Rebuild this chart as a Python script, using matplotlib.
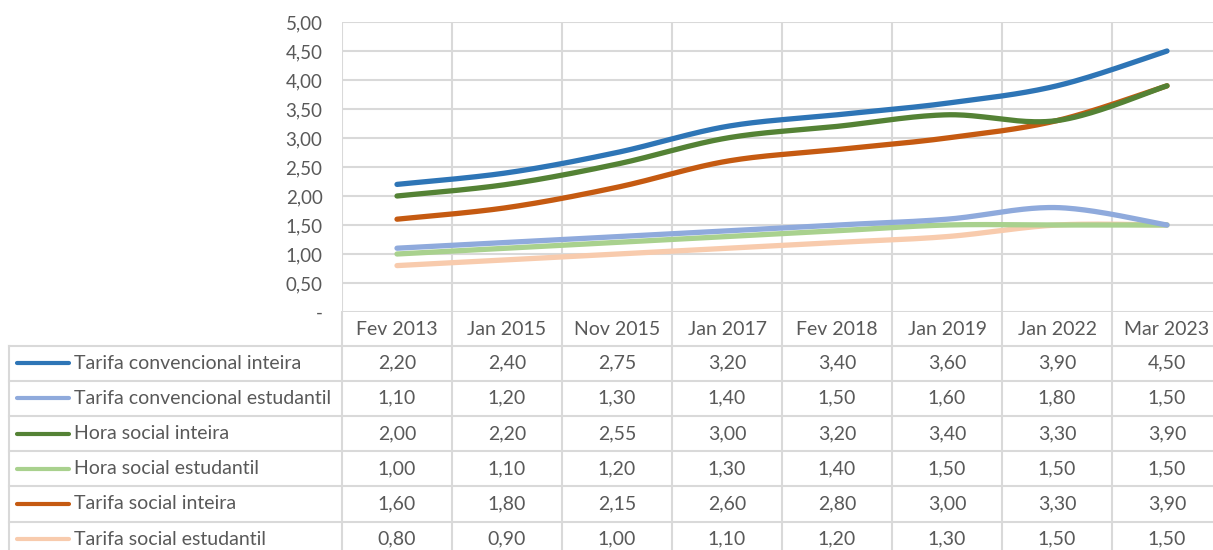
import numpy as np
import matplotlib
matplotlib.use("Agg")
import matplotlib.pyplot as plt

plt.rcParams["font.family"] = ["Lato", "DejaVu Sans"]

categories = ["Fev 2013", "Jan 2015", "Nov 2015", "Jan 2017",
              "Fev 2018", "Jan 2019", "Jan 2022", "Mar 2023"]

series_names = ["Tarifa convencional inteira", "Tarifa convencional estudantil",
                "Hora social inteira", "Hora social estudantil",
                "Tarifa social inteira", "Tarifa social estudantil"]

conv_inteira = [2.20, 2.40, 2.75, 3.20, 3.40, 3.60, 3.90, 4.50]
conv_estudantil = [1.10, 1.20, 1.30, 1.40, 1.50, 1.60, 1.80, 1.50]
hora_inteira = [2.00, 2.20, 2.55, 3.00, 3.20, 3.40, 3.30, 3.90]
hora_estudantil = [1.00, 1.10, 1.20, 1.30, 1.40, 1.50, 1.50, 1.50]
social_inteira = [1.60, 1.80, 2.15, 2.60, 2.80, 3.00, 3.30, 3.90]
social_estudantil = [0.80, 0.90, 1.00, 1.10, 1.20, 1.30, 1.50, 1.50]

series_values = [conv_inteira, conv_estudantil, hora_inteira,
                 hora_estudantil, social_inteira, social_estudantil]
colors = ["#2E75B6", "#8FAADC", "#548235", "#A9D18E", "#C55A11", "#F8CBAD"]
draw_order = [5, 3, 1, 4, 2, 0]

y_ticks = [0, 0.5, 1.0, 1.5, 2.0, 2.5, 3.0, 3.5, 4.0, 4.5, 5.0]

TEXT = "#595959"
GRID = "#D9D9D9"
FS = 14


def fmt(v):
    return "-" if v == 0 else f"{v:.2f}".replace(".", ",")


def smooth(xs, ys, n=40):
    """Cubic Bezier smoothing through every point (Catmull-Rom tangents)."""
    pts = np.column_stack([xs, ys]).astype(float)
    ext = np.vstack([pts[0], pts, pts[-1]])
    out = []
    t = np.linspace(0, 1, n)[:, None]
    for i in range(len(pts) - 1):
        p0, p1 = ext[i + 1], ext[i + 2]
        c1 = p0 + (ext[i + 2] - ext[i]) / 6.0
        c2 = p1 - (ext[i + 3] - ext[i + 1]) / 6.0
        seg = ((1 - t) ** 3) * p0 + 3 * ((1 - t) ** 2) * t * c1 \
            + 3 * (1 - t) * t ** 2 * c2 + t ** 3 * p1
        out.append(seg if i == 0 else seg[1:])
    out = np.vstack(out)
    return out[:, 0], out[:, 1]


W, H = 1213, 550
fig = plt.figure(figsize=(W / 100, H / 100), dpi=100)

# pixel-space layer for the data table
bg = fig.add_axes([0, 0, 1, 1])
bg.set_xlim(0, W)
bg.set_ylim(H, 0)
bg.axis("off")

plot_left, plot_top, plot_bottom = 342, 22, 312
col_w = 110
table_left = 9
header_bottom = 345.5
row_h = 35.2

ax = fig.add_axes([plot_left / W, 1 - plot_bottom / H,
                   (W - plot_left) / W, (plot_bottom - plot_top) / H])
ax.set_xlim(-0.5, -0.5 + (W - plot_left) / col_w)
ax.set_ylim(0, 5)
for s in ax.spines.values():
    s.set_visible(False)
ax.set_xticks([])
ax.set_yticks(y_ticks)
ax.set_yticklabels([fmt(v) for v in y_ticks])
ax.tick_params(axis="y", length=0, pad=14, labelsize=FS - 0.5, labelcolor=TEXT)
for v in y_ticks:
    ax.axhline(v, color=GRID, lw=1.5, zorder=0)
for k in range(len(categories) + 1):
    ax.axvline(k - 0.5, color=GRID, lw=1.5, zorder=0)

x = np.arange(len(categories))
for i in draw_order:
    sx, sy = smooth(x, series_values[i])
    ax.plot(sx, sy, color=colors[i], lw=3.8, solid_capstyle="round",
            solid_joinstyle="round", zorder=3)

# table grid
n_rows = len(series_names)
col_edges = [plot_left + k * col_w for k in range(len(categories) + 1)]
for ce in col_edges:
    bg.plot([ce, ce], [plot_bottom, H], color=GRID, lw=1.5, zorder=0)
bg.plot([table_left, table_left], [header_bottom, H], color=GRID, lw=1.5)
for r in range(n_rows):
    yy = header_bottom + r * row_h
    bg.plot([table_left, W], [yy, yy], color=GRID, lw=1.5)

# header
for k, c in enumerate(categories):
    bg.text(plot_left + (k + 0.5) * col_w, (plot_bottom + header_bottom) / 2 + 1,
            c, ha="center", va="center", fontsize=FS, color=TEXT)

# rows
for r, name in enumerate(series_names):
    yc = header_bottom + (r + 0.5) * row_h
    bg.plot([17, 69], [yc, yc], color=colors[r], lw=3.0, solid_capstyle="round")
    bg.text(74, yc, name, ha="left", va="center", fontsize=FS, color=TEXT)
    for k, v in enumerate(series_values[r]):
        bg.text(plot_left + (k + 0.5) * col_w, yc, fmt(v), ha="center",
                va="center", fontsize=FS, color=TEXT)

fig.savefig("out.png", dpi=100)
